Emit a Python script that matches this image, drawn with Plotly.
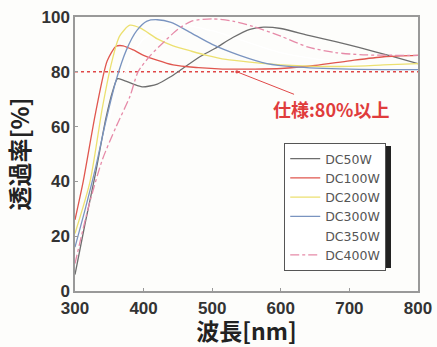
import plotly.graph_objects as go

# ---- data ----
wl_50 = [300, 315, 330, 345, 355, 362, 370, 385, 398, 420, 438, 453, 482, 504, 530, 555, 575, 600, 642, 680, 715, 760, 800]
t_50 = [6, 25, 43, 63, 73, 77.5, 77, 75.5, 74.5, 75.5, 78, 80.5, 85.5, 88.5, 92.5, 95.5, 96.3, 95.8, 93.2, 91, 88.8, 85.8, 83]

wl_100 = [300, 312, 330, 347, 360, 370, 385, 400, 443, 480, 515, 560, 600, 650, 700, 750, 800]
t_100 = [26, 40, 65, 84, 89.3, 89.5, 88, 86, 82.5, 81.5, 81, 81, 81.2, 82.3, 84, 85.5, 86]

wl_200 = [300, 322, 340, 354, 365, 380, 395, 420, 443, 470, 492, 520, 555, 600, 650, 700, 750, 800]
t_200 = [21, 40, 67, 84, 93, 97, 96, 92, 89.5, 87.5, 86, 84.5, 83.5, 82.5, 82, 82, 82.5, 83]

wl_300 = [300, 315, 330, 345, 360, 375, 390, 405, 420, 440, 467, 500, 540, 580, 620, 700, 800]
t_300 = [16, 30, 45, 62, 77, 88, 95, 98.5, 99, 98, 94.5, 90, 86, 83, 81.8, 81, 80.8]

wl_350 = [300, 330, 360, 400, 450, 500, 600, 700, 800]
t_350 = [12, 42, 72, 92, 97, 95, 87, 83, 82]

wl_400 = [300, 320, 340, 360, 380, 392, 410, 430, 450, 470, 500, 530, 560, 600, 640, 680, 720, 800]
t_400 = [10, 31, 48, 60, 71, 80, 86, 91, 95.5, 98.5, 99.3, 98.5, 96.5, 93, 89, 87, 86.2, 86]

spec_level = [80, 80]
spec_wl = [300, 800]

x_ticks = [300, 400, 500, 600, 700, 800]
y_ticks = [0, 20, 40, 60, 80, 100]

series = [
    ("DC350W", wl_350, t_350, "#ffffff", "solid", 5),
    ("DC50W", wl_50, t_50, "#6e6e6e", "solid", 1),
    ("DC100W", wl_100, t_100, "#e0564e", "solid", 2),
    ("DC200W", wl_200, t_200, "#ece070", "solid", 3),
    ("DC300W", wl_300, t_300, "#7a94c0", "solid", 4),
    ("DC400W", wl_400, t_400, "#e68aa8", "dashdot", 6),
]

fig = go.Figure()

fig.add_trace(go.Scatter(
    x=spec_wl, y=spec_level, mode="lines", showlegend=False,
    line=dict(color="#e04848", width=1.6, dash="dot"), hoverinfo="skip"))

for name, xs, ys, col, dash, rank in series:
    fig.add_trace(go.Scatter(
        x=xs, y=ys, name=name, mode="lines", legendrank=rank,
        line=dict(color=col, width=1.3, dash=dash, shape="spline", smoothing=0.7)))

tick_font = dict(family="Liberation Sans", size=17, color="#333333", weight="bold")
title_font = dict(family="Noto Sans CJK JP", size=24, color="#222222", weight="bold")
xtitle_font = dict(family="Noto Sans CJK JP", size=23, color="#222222", weight="bold")

fig.update_layout(
    width=437, height=347,
    margin=dict(l=75, r=19, t=17, b=56, autoexpand=False),
    paper_bgcolor="#fdfdfb", plot_bgcolor="#fdfdfb",
    showlegend=True,
    legend=dict(
        x=0.61, y=0.54, xanchor="left", yanchor="top",
        bgcolor="#ffffff", bordercolor="#555555", borderwidth=1,
        font=dict(family="DejaVu Sans", size=12.5, color="#555555"),
        traceorder="normal", itemwidth=30,
    ),
    xaxis=dict(
        range=[300, 800], tickvals=x_ticks, ticks="inside", ticklen=3,
        tickcolor="#999999", showline=True, linecolor="#999999", linewidth=1.5,
        mirror=True, showgrid=False, zeroline=False, tickfont=tick_font,
        ticklabelstandoff=1,
        title=dict(text="波長[nm]", font=xtitle_font, standoff=7),
    ),
    yaxis=dict(
        range=[0, 100], tickvals=y_ticks, ticks="inside", ticklen=3,
        tickcolor="#999999", showline=True, linecolor="#999999", linewidth=1.5,
        mirror=True, showgrid=False, zeroline=False, tickfont=tick_font,
        title=dict(text="透過率[%]", font=title_font, standoff=5),
    ),
)

fig.add_annotation(
    x=536, y=80, xref="x", yref="y",
    text="仕様:80%以上", showarrow=True, ax=94, ay=37,
    arrowcolor="#e04848", arrowwidth=1, arrowhead=6, arrowsize=0.8,
    font=dict(family="Noto Sans CJK JP", size=18, color="#e03c3c", weight="bold"),
)

# legend drop shadow
fig.add_shape(type="rect", xref="paper", yref="paper",
              x0=(288 - 75) / 343, x1=(391 - 75) / 343,
              y0=(291 - 268) / 274, y1=(291 - 146) / 274,
              fillcolor="#222222", line=dict(width=0), layer="above")

fig.write_html("out.html")
